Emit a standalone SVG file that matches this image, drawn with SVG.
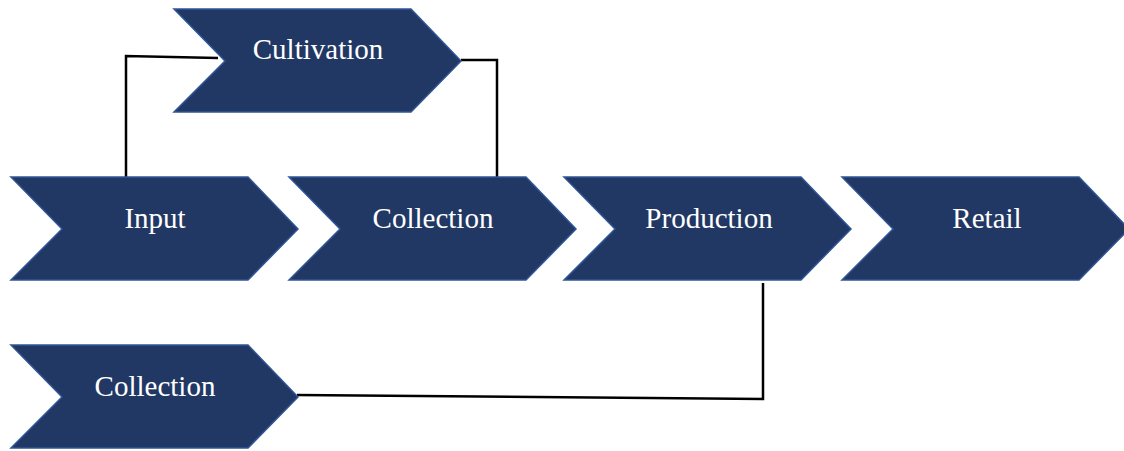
<svg xmlns="http://www.w3.org/2000/svg" width="1124" height="451" viewBox="0 0 1124 451">
  <style>
    .chev { fill: #213864; stroke: #2f5597; stroke-width: 1.5; }
    .lbl { font-family: "Liberation Serif", "Times New Roman", serif; font-size: 29px; fill: #ffffff; text-anchor: middle; }
    .link { fill: none; stroke: #000000; stroke-width: 2.5; }
  </style>
  <defs>
    <!-- chevron step shape, origin at top-left corner -->
    <path id="step" d="M0,0 H237 L287,52 L237,103 H0 L51,52 Z"/>
  </defs>

  <g id="connectors">
    <path class="link" d="M126,177 V56 L218,58"/>
    <path class="link" d="M461,60 H497 V177"/>
    <path class="link" d="M297,395 L763,399 V283"/>
  </g>

  <g id="cultivation">
    <use href="#step" class="chev" x="174" y="9"/>
    <text class="lbl" x="318" y="59">Cultivation</text>
  </g>

  <g id="input">
    <use href="#step" class="chev" x="11" y="177"/>
    <text class="lbl" x="155" y="228">Input</text>
  </g>

  <g id="collection">
    <use href="#step" class="chev" x="289" y="177"/>
    <text class="lbl" x="433" y="228">Collection</text>
  </g>

  <g id="production">
    <use href="#step" class="chev" x="564" y="177"/>
    <text class="lbl" x="709" y="228">Production</text>
  </g>

  <g id="retail">
    <use href="#step" class="chev" x="842" y="177"/>
    <text class="lbl" x="987" y="228">Retail</text>
  </g>

  <g id="collection-2">
    <use href="#step" class="chev" x="11" y="345"/>
    <text class="lbl" x="155" y="396">Collection</text>
  </g>
</svg>
